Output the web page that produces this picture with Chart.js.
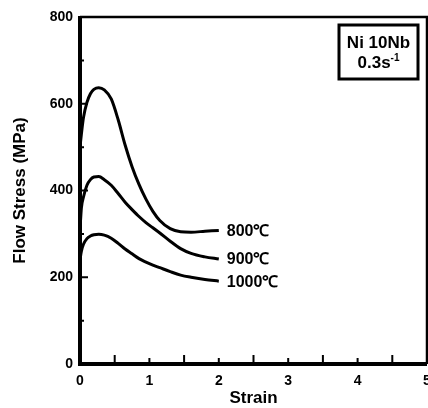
<!DOCTYPE html>
<html>
<head>
<meta charset="utf-8">
<script src="https://cdn.jsdelivr.net/npm/chart.js@4"></script>
<style>
html,body{margin:0;padding:0;background:#fff;}
#wrap{width:428px;height:408px;position:relative;}
</style>
</head>
<body>
<div id="wrap"><canvas id="c" width="428" height="408"></canvas></div>
<script>
// ---- data ----
const strain = [0, 0.02, 0.05, 0.1, 0.15, 0.2, 0.27, 0.35, 0.45, 0.55, 0.65, 0.75, 0.85, 0.95, 1.05, 1.15, 1.3, 1.45, 1.6, 1.8, 2.0];
const stress800 = [500, 530, 568, 603, 623, 633, 637, 632, 611, 563, 505, 455, 414, 380, 352, 331, 312, 305, 304, 306, 308];
const stress900 = [310, 360, 385, 412, 425, 431, 432, 425, 412, 393, 373, 356, 340, 326, 314, 302, 283, 266, 255, 247, 242];
const stress1000 = [240, 260, 276, 289, 295, 298, 299, 297, 290, 278, 265, 254, 243, 235, 228, 222, 213, 205, 200, 195, 191];
const seriesLabels = ['800\u2103', '900\u2103', '1000\u2103'];
const xTickStep = 0.5;
const yTickStep = 100;
const xRange = [0, 5];
const yRange = [0, 800];
const boxLines = ['Ni 10Nb', '0.3s', '-1'];

const FONT = '"Liberation Sans", Arial, Helvetica, sans-serif';

function pts(ys) { return strain.map((x, i) => ({x: x, y: ys[i]})); }

const ds = [stress800, stress900, stress1000].map((ys, i) => ({
  label: seriesLabels[i],
  data: pts(ys),
  showLine: true,
  borderColor: '#000',
  borderWidth: 3,
  pointRadius: 0,
  cubicInterpolationMode: 'monotone',
  fill: false
}));

const framePlugin = {
  id: 'frame',
  afterDatasetsDraw(chart) {
    const ctx = chart.ctx;
    const a = chart.chartArea;
    const xs = chart.scales.x, ys = chart.scales.y;
    ctx.save();
    ctx.strokeStyle = '#000';
    ctx.lineCap = 'butt';
    // top and right borders
    ctx.lineWidth = 2.5;
    ctx.beginPath();
    ctx.moveTo(a.left, a.top); ctx.lineTo(a.right, a.top); ctx.lineTo(a.right, a.bottom);
    ctx.stroke();
    // axes
    ctx.lineWidth = 4;
    ctx.beginPath();
    ctx.moveTo(a.left, a.top - 1); ctx.lineTo(a.left, a.bottom + 2);
    ctx.moveTo(a.left - 2, a.bottom); ctx.lineTo(a.right, a.bottom);
    ctx.stroke();
    // inward tick marks
    ctx.lineWidth = 2;
    ctx.beginPath();
    xs.ticks.forEach(t => {
      const px = xs.getPixelForValue(t.value);
      if (t.value <= xRange[0] || t.value >= xRange[1]) return;
      const len = (Math.round(t.value) === t.value) ? 6 : 9;
      ctx.moveTo(px, a.bottom); ctx.lineTo(px, a.bottom - len);
    });
    ys.ticks.forEach(t => {
      const py = ys.getPixelForValue(t.value);
      if (t.value <= yRange[0] || t.value >= yRange[1]) return;
      const len = (t.value % 200 === 0) ? 8 : 4;
      ctx.moveTo(a.left, py); ctx.lineTo(a.left + len, py);
    });
    ctx.stroke();
    // series labels at line ends
    ctx.fillStyle = '#000';
    ctx.font = 'bold 16px ' + FONT;
    ctx.textBaseline = 'middle';
    ctx.textAlign = 'left';
    chart.data.datasets.forEach(d => {
      const last = d.data[d.data.length - 1];
      ctx.fillText(d.label, xs.getPixelForValue(last.x) + 8, ys.getPixelForValue(last.y) + 1);
    });
    // info box
    const bx = 339, by = 25, bw = 79, bh = 54;
    ctx.lineWidth = 3;
    ctx.strokeRect(bx, by, bw, bh);
    ctx.font = 'bold 17px ' + FONT;
    ctx.textAlign = 'center';
    ctx.fillText(boxLines[0], bx + bw / 2, by + 18);
    const w1 = ctx.measureText(boxLines[1]).width;
    ctx.font = 'bold 10px ' + FONT;
    const w2 = ctx.measureText(boxLines[2]).width;
    const sx = bx + bw / 2 - (w1 + w2) / 2;
    ctx.textAlign = 'left';
    ctx.font = 'bold 17px ' + FONT;
    ctx.fillText(boxLines[1], sx, by + 38);
    ctx.font = 'bold 10px ' + FONT;
    ctx.fillText(boxLines[2], sx + w1, by + 33);
    ctx.restore();
  }
};

new Chart(document.getElementById('c'), {
  type: 'scatter',
  data: { datasets: ds },
  plugins: [framePlugin],
  options: {
    responsive: false,
    animation: false,
    devicePixelRatio: 1,
    layout: { padding: { top: 17, right: 1, left: 0, bottom: 0 } },
    plugins: { legend: { display: false }, tooltip: { enabled: false } },
    scales: {
      x: {
        type: 'linear', min: xRange[0], max: xRange[1],
        grid: { display: false, drawTicks: false },
        border: { display: false },
        ticks: {
          stepSize: xTickStep, color: '#000', padding: 9, maxRotation: 0, autoSkip: false,
          font: { family: FONT, size: 14, weight: 'bold' },
          callback: v => (Math.round(v) === v ? String(v) : '')
        },
        title: { display: true, text: 'Strain', color: '#000', padding: { top: 0, bottom: 1 },
          font: { family: FONT, size: 17, weight: 'bold', lineHeight: 1 } },
        afterFit: s => { s.height = 44; s.paddingLeft = 0; s.paddingRight = 0; }
      },
      y: {
        type: 'linear', min: yRange[0], max: yRange[1],
        grid: { display: false, drawTicks: false },
        border: { display: false },
        ticks: {
          stepSize: yTickStep, color: '#000', padding: 7, autoSkip: false,
          font: { family: FONT, size: 14, weight: 'bold' },
          callback: v => (v % 200 === 0 ? String(v) : '')
        },
        title: { display: true, text: 'Flow Stress (MPa)', color: '#000', padding: { top: 11.5, bottom: 0 },
          font: { family: FONT, size: 17, weight: 'bold', lineHeight: 1 } },
        afterFit: s => { s.width = 80; s.paddingTop = 0; s.paddingBottom = 0; }
      }
    }
  }
});
</script>
</body>
</html>
